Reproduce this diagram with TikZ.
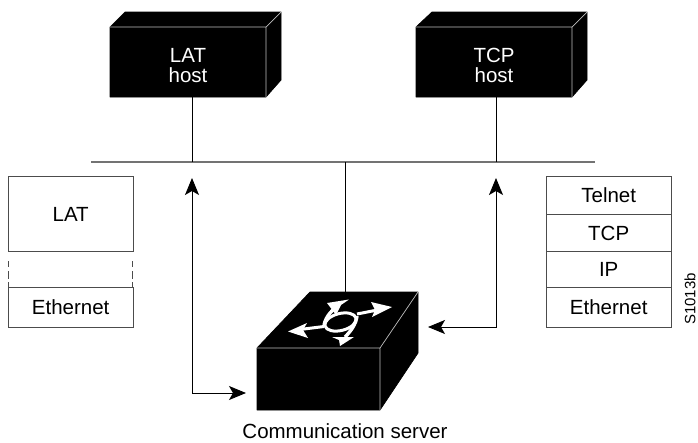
\documentclass[tikz,border=0pt]{standalone}
\usepackage{fontspec}
\setmainfont{Liberation Sans}
\usetikzlibrary{arrows.meta}
\tikzset{
  x=1pt,y=-1pt,
  dark/.style={fill=black,draw=black,line width=0.7pt,line join=round},
  edge/.style={draw=black!25!white,line width=0.7pt},
  wire/.style={draw=black,line width=0.9pt},
  bus/.style={draw=black!55!white,line width=1.2pt},
  stackbox/.style={draw=black!70!white,line width=0.9pt,fill=none,minimum width=124.5pt,inner sep=0pt,font=\fontsize{20.5}{23}\selectfont},
  lab/.style={font=\fontsize{20.5}{20.5}\selectfont,inner sep=0pt,align=center},
  flow/.style={draw=black,line width=0.9pt,{Stealth[length=17pt,width=14pt,inset=4pt]}-{Stealth[length=17pt,width=14pt,inset=4pt]}},
  glyph/.style={draw=white,line width=3pt},
  glyphhead/.style={fill=white,draw=none},
  sidedash/.style={draw=black!70!white,line width=0.9pt,dash pattern=on 0pt off 10pt on 6pt off 4pt on 8pt off 3pt on 6pt off 10pt}
}
\begin{document}
\begin{tikzpicture}
\useasboundingbox (0,0) rectangle (698,442);
% LAT host
\fill[dark] (110,27) -- (125,12) -- (281,12) -- (281,80) -- (266,97) -- (110,97) -- cycle;
\draw[edge] (110,27) -- (266,27) -- (266,97) (266,27) -- (281,12);
\node[lab,text=white] (lathost) at (188,65.5) {LAT\\host};
\coordinate (latbase) at (192,97);
% TCP host
\fill[dark] (416,27) -- (432,12) -- (587,12) -- (587,80) -- (572,97) -- (416,97) -- cycle;
\draw[edge] (416,27) -- (572,27) -- (572,97) (572,27) -- (587,12);
\node[lab,text=white] (tcphost) at (494,65.5) {TCP\\host};
\coordinate (tcpbase) at (496,97);
% bus
\coordinate (busl) at (91,162);
\coordinate (busr) at (595,162);
\draw[bus] (busl) -- (busr);
\coordinate (latbus) at (192,162);
\coordinate (tcpbus) at (496,162);
\coordinate (srvbus) at (345,162);
\coordinate (srvtop) at (345,298);
\draw[wire] (latbase) -- (latbus);
\draw[wire] (tcpbase) -- (tcpbus);
\draw[wire] (srvbus) -- (srvtop);
% server
\fill[dark] (257,348) -- (310,292) -- (418,292) -- (418,353) -- (380,410) -- (257,410) -- cycle;
\draw[edge] (257,348) -- (380,348) -- (380,410) (380,348) -- (418,292);
% switch glyph
\draw[glyph] (340.5,322) ellipse [x radius=16,y radius=8.5,rotate=14];
\draw[glyph] (300,329.5) -- (324,326.5);
\draw[glyph] (357,314) -- (380,309.5);
\draw[glyph,line width=3.4pt] (339,305) .. controls (332,310) and (326,316) .. (324,325);
\draw[glyph,line width=3.4pt] (357,316) .. controls (356,324) and (351,331) .. (345,337);
\fill[glyphhead] (392,307) -- (371,302) -- (375,310) -- (372,317) -- cycle;
\fill[glyphhead] (288,331.5) -- (307,323) -- (303,330) -- (308,338) -- cycle;
\fill[glyphhead] (327,303) -- (349,299.5) -- (341,305) -- (336,315) -- cycle;
\fill[glyphhead] (354,337) -- (332,337) -- (339,340) -- (340,346) -- cycle;
\node[lab] (srvlabel) at (345,431.5) {Communication server};
% left stack
\node[stackbox,minimum height=75pt,anchor=north west] (lat) at (8,176) {LAT};
\node[stackbox,minimum height=40pt,anchor=north west] (etha) at (8,287) {\raisebox{0.8pt}{Ethernet}};
\coordinate (gapl1) at (8,251);\coordinate (gapl2) at (8,287);
\coordinate (gapr1) at (132.5,251);\coordinate (gapr2) at (132.5,287);
\draw[sidedash] (gapl1) -- (gapl2);
\draw[sidedash] (gapr1) -- (gapr2);
% right stack
\node[stackbox,minimum height=38pt,anchor=north west] (telnet) at (546,176) {\raisebox{-1pt}{Telnet}};
\node[stackbox,minimum height=37pt,anchor=north west] (tcp) at (546,214) {\raisebox{-1.5pt}{TCP}};
\node[stackbox,minimum height=36pt,anchor=north west] (ip) at (546,251) {\raisebox{-1.5pt}{IP}};
\node[stackbox,minimum height=40pt,anchor=north west] (ethb) at (546,287) {\raisebox{0.8pt}{Ethernet}};
\node[font=\fontsize{15}{17}\selectfont,rotate=90,inner sep=0pt] (code) at (690,299) {S1013b};
% flows
\coordinate (lu) at (192,178);
\coordinate (ru) at (496,178);
\coordinate (lt) at (246,393);
\coordinate (rt) at (428,327);
\draw[flow] (lu) -- (192,393) -- (lt);
\draw[flow] (ru) -- (496,327) -- (rt);
\end{tikzpicture}
\end{document}
